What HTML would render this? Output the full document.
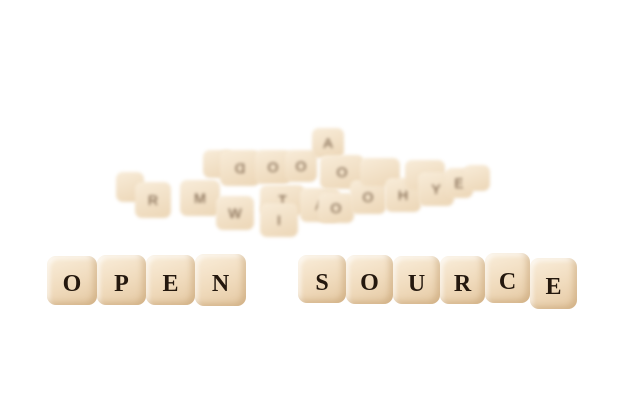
<!DOCTYPE html>
<html><head><meta charset="utf-8"><style>
body{margin:0;width:626px;height:417px;background:#fff;overflow:hidden;position:relative;font-family:"Liberation Serif",serif}
.d{position:absolute;box-sizing:border-box;padding-top:8px;border-radius:9px;background:linear-gradient(160deg,#faeedb 0%,#f0dbbd 55%,#e4c8a2 100%);box-shadow:inset -4px -3px 6px rgba(180,140,90,.35),inset 3px 3px 4px rgba(255,255,255,.6);display:flex;align-items:center;justify-content:center;color:#24180e;font-size:24px;font-weight:bold}
.b{position:absolute;border-radius:7px;background:linear-gradient(160deg,#f8ecd9,#ecd6b6);filter:blur(1.5px);display:flex;align-items:center;justify-content:center;color:#6a5038;font-size:14px;font-family:"Liberation Sans",sans-serif}
</style></head><body>
<div>
<div class="b" style="left:116px;top:172px;width:28px;height:30px"></div>
<div class="b" style="left:135px;top:182px;width:36px;height:36px">R</div>
<div class="b" style="left:180px;top:180px;width:40px;height:36px">M</div>
<div class="b" style="left:203px;top:150px;width:30px;height:28px"></div>
<div class="b" style="left:220px;top:150px;width:40px;height:36px">Ɑ</div>
<div class="b" style="left:216px;top:196px;width:38px;height:34px">W</div>
<div class="b" style="left:255px;top:150px;width:36px;height:34px">O</div>
<div class="b" style="left:260px;top:185px;width:45px;height:30px">T</div>
<div class="b" style="left:260px;top:203px;width:38px;height:34px">I</div>
<div class="b" style="left:285px;top:150px;width:32px;height:32px">O</div>
<div class="b" style="left:300px;top:188px;width:40px;height:34px">A</div>
<div class="b" style="left:312px;top:128px;width:32px;height:30px">A</div>
<div class="b" style="left:320px;top:155px;width:44px;height:34px">O</div>
<div class="b" style="left:318px;top:193px;width:36px;height:30px">O</div>
<div class="b" style="left:350px;top:180px;width:36px;height:34px">O</div>
<div class="b" style="left:360px;top:158px;width:40px;height:28px"></div>
<div class="b" style="left:385px;top:178px;width:36px;height:34px">H</div>
<div class="b" style="left:405px;top:160px;width:40px;height:30px"></div>
<div class="b" style="left:418px;top:172px;width:36px;height:34px">Y</div>
<div class="b" style="left:445px;top:168px;width:28px;height:30px">E</div>
<div class="b" style="left:464px;top:165px;width:26px;height:26px"></div>
</div>
<div>
<div class="d" style="left:47px;top:256px;width:50px;height:49px">O</div>
<div class="d" style="left:97px;top:255px;width:49px;height:50px">P</div>
<div class="d" style="left:146px;top:255px;width:49px;height:50px">E</div>
<div class="d" style="left:195px;top:254px;width:51px;height:52px">N</div>
</div>
<div>
<div class="d" style="left:298px;top:255px;width:48px;height:48px">S</div>
<div class="d" style="left:346px;top:255px;width:47px;height:49px">O</div>
<div class="d" style="left:393px;top:256px;width:47px;height:48px">U</div>
<div class="d" style="left:440px;top:256px;width:45px;height:48px">R</div>
<div class="d" style="left:485px;top:253px;width:45px;height:50px">C</div>
<div class="d" style="left:530px;top:258px;width:47px;height:51px">E</div>
</div>
</body></html>
